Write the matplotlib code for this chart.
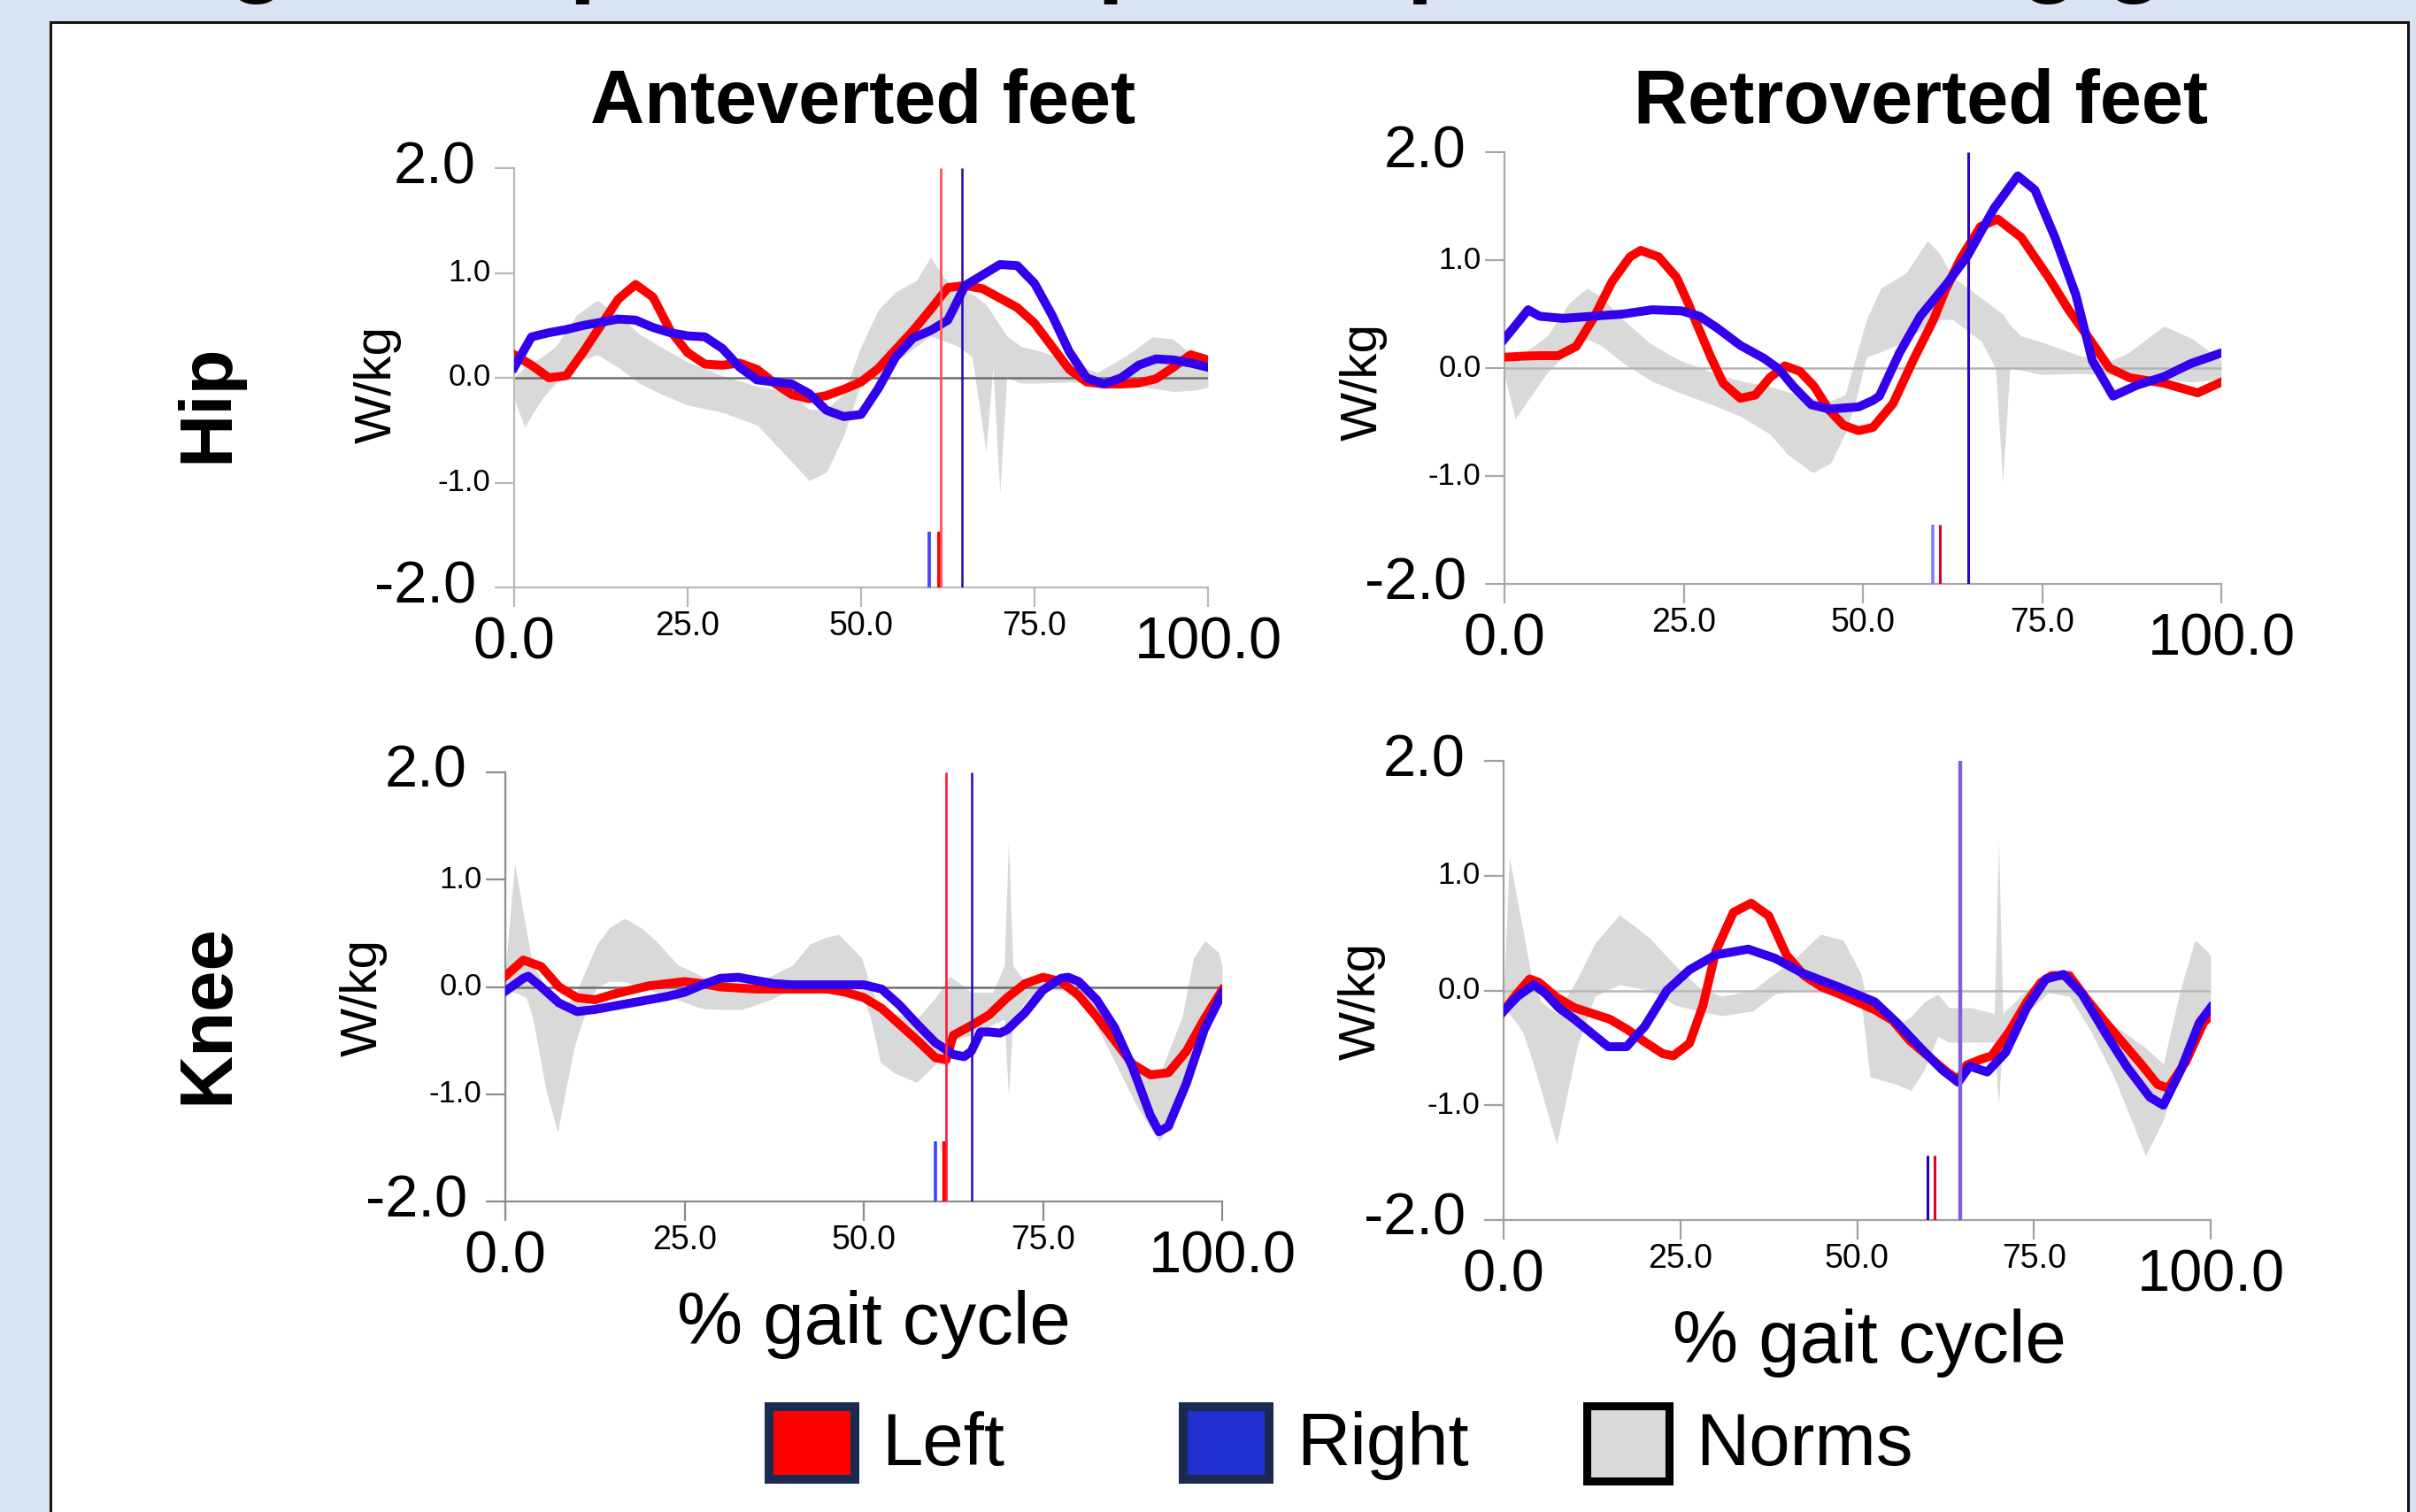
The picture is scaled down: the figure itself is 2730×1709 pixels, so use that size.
import numpy as np
import matplotlib.pyplot as plt
from matplotlib import font_manager
from matplotlib.patches import Rectangle

W, H = 2730, 1709

names = {f.name for f in font_manager.fontManager.ttflist}
narrow = 'Liberation Sans Narrow' if 'Liberation Sans Narrow' in names else 'Liberation Sans'
plt.rcParams['font.family'] = ['Liberation Sans', 'DejaVu Sans']

# ---- labels ----
title_text = "Sagittal hip and knee power profiles during gait"
col_titles = ["Anteverted feet", "Retroverted feet"]
row_titles = ["Hip", "Knee"]
y_unit = "W/kg"
x_title = "% gait cycle"
legend_labels = ["Left", "Right", "Norms"]
yticks = [-2.0, -1.0, 0.0, 1.0, 2.0]
xticks = [0.0, 25.0, 50.0, 75.0, 100.0]

# ---- hip, anteverted ----
hip_ant_x = [0, 2.5, 5, 7.5, 10, 12.5, 15, 17.5, 20, 22.5, 25, 27.5, 30, 32.5, 35, 37.5, 40,
             42.5, 45, 47.5, 50, 52.5, 55, 57.5, 60, 62.5, 65, 67.5, 70, 72.5, 75, 77.5, 80,
             82.5, 85, 87.5, 90, 92.5, 95, 97.5, 100]
hip_ant_left = [0.22, 0.12, 0.0, 0.02, 0.25, 0.5, 0.75, 0.89, 0.77, 0.45, 0.24, 0.13, 0.12,
                0.14, 0.08, -0.05, -0.16, -0.2, -0.17, -0.11, -0.04, 0.09, 0.27, 0.45, 0.65,
                0.86, 0.88, 0.85, 0.76, 0.67, 0.52, 0.3, 0.08, -0.04, -0.06, -0.06, -0.05,
                -0.01, 0.1, 0.22, 0.17]
hip_ant_right = [0.1, 0.39, 0.43, 0.46, 0.5, 0.53, 0.56, 0.55, 0.48, 0.43, 0.4, 0.39, 0.28,
                 0.1, -0.02, -0.04, -0.06, -0.15, -0.31, -0.37, -0.35, -0.1, 0.2, 0.38, 0.45,
                 0.55, 0.88, 0.98, 1.08, 1.07, 0.9, 0.6, 0.25, 0.0, -0.06, 0.0, 0.12, 0.18,
                 0.17, 0.14, 0.1]
hip_ant_norm_x = [0, 1.5, 4, 6, 9, 12, 15, 18, 21, 25, 30, 35, 40, 42.5, 45, 47.5, 50, 52.5,
                  55, 58, 60, 62, 64, 66, 68, 69, 70, 71, 73, 76, 80, 84, 88, 92, 95, 98, 100]
hip_ant_norm_hi = [0.0, 0.1, 0.2, 0.3, 0.6, 0.74, 0.6, 0.42, 0.3, 0.15, 0.02, -0.08, -0.15,
                   -0.3, -0.3, -0.15, 0.3, 0.65, 0.82, 0.93, 1.15, 0.95, 0.85, 0.8, 0.7, 0.6,
                   0.5, 0.4, 0.3, 0.25, 0.15, 0.05, 0.2, 0.39, 0.37, 0.2, 0.07]
hip_ant_norm_lo = [-0.2, -0.47, -0.2, -0.05, 0.15, 0.22, 0.1, -0.05, -0.15, -0.26, -0.33,
                   -0.45, -0.8, -0.98, -0.9, -0.55, -0.05, 0.0, 0.15, 0.3, 0.4, 0.35, 0.3, 0.2,
                   -0.7, 0.1, -1.1, 0.0, -0.05, -0.05, -0.04, -0.06, -0.05, -0.1, -0.13, -0.12,
                   -0.09]
hip_ant_events = [(59.8, -1.47, '#4a4af0', 2.8), (61.2, -1.47, '#ff0000', 2.8),
                  (61.5, 2.0, '#ff5060', 2.0), (64.5, 2.0, '#2a00c0', 1.8)]

# ---- hip, retroverted ----
hip_ret_left_x = [0, 2.5, 5, 7.5, 10, 12.5, 15, 17.5, 19, 21.5, 24, 25.5, 27.2, 28.8, 30.5,
                  32.9, 35, 37, 39.1, 41.2, 43.2, 45.3, 47.3, 49.4, 51.4, 54.2, 57, 59.8, 61.5,
                  63.6, 66.4, 68.8, 72.1, 75.9, 78.7, 81.6, 84.4, 87.2, 92, 96.7, 100]
hip_ret_left = [0.1, 0.11, 0.115, 0.115, 0.2, 0.47, 0.8, 1.03, 1.09, 1.03, 0.84, 0.62, 0.35,
                0.1, -0.14, -0.28, -0.25, -0.09, 0.02, -0.03, -0.17, -0.39, -0.53, -0.58,
                -0.55, -0.33, 0.07, 0.44, 0.72, 1.01, 1.31, 1.38, 1.21, 0.84, 0.54, 0.27, 0.0,
                -0.09, -0.14, -0.23, -0.13]
hip_ret_right_x = [0, 1.6, 3.3, 4.9, 8.2, 12.3, 16.5, 20.6, 24.7, 27.2, 29.6, 32.9, 36.2,
                   38.3, 40.3, 42.8, 45.3, 49.4, 51.4, 52.3, 55.1, 58, 61.7, 64.6, 68.3, 71.6,
                   74, 76.8, 79.7, 82, 84.9, 88.2, 92, 95.7, 100]
hip_ret_right = [0.27, 0.4, 0.54, 0.48, 0.46, 0.48, 0.5, 0.54, 0.53, 0.48, 0.375, 0.21, 0.09,
                 -0.01, -0.17, -0.34, -0.38, -0.36, -0.3, -0.26, 0.14, 0.48, 0.78, 1.04, 1.48,
                 1.78, 1.65, 1.21, 0.68, 0.07, -0.26, -0.16, -0.08, 0.04, 0.14]
hip_ret_norm_x = [0, 1.5, 4, 6, 9, 11.5, 13.5, 16.5, 20.5, 24.5, 29, 33, 37, 39.5, 43, 45.5,
                  47.5, 49, 50.5, 52.5, 56, 59, 60.5, 62.5, 64.5, 66.5, 68.5, 69.5, 70.5, 72,
                  75, 80, 84, 87, 92, 96, 100]
hip_ret_norm_hi = [0.05, 0.1, 0.2, 0.3, 0.6, 0.74, 0.66, 0.45, 0.22, 0.07, -0.04, -0.12,
                   -0.17, -0.22, -0.28, -0.3, -0.25, 0.1, 0.45, 0.74, 0.88, 1.18, 1.08, 0.85,
                   0.75, 0.65, 0.55, 0.5, 0.4, 0.3, 0.24, 0.12, 0.05, 0.14, 0.39, 0.27, 0.07]
hip_ret_norm_lo = [-0.06, -0.47, -0.23, -0.04, 0.16, 0.27, 0.21, 0.05, -0.12, -0.23, -0.34,
                   -0.45, -0.61, -0.8, -0.97, -0.88, -0.61, -0.3, 0.1, 0.15, 0.25, 0.4, 0.45,
                   0.45, 0.35, 0.25, 0.0, -1.05, 0.0, -0.02, -0.06, -0.05, -0.06, -0.08, -0.1,
                   -0.13, -0.1]
hip_ret_events = [(59.8, -1.45, '#8080ff', 2.6), (60.8, -1.45, '#e00020', 2.2),
                  (64.7, 2.0, '#3300cc', 2.2)]

# ---- knee, anteverted ----
knee_ant_left_x = [0, 2.5, 5, 7.5, 10, 12.5, 15, 17.5, 20, 22.5, 25, 27.5, 30, 32.5, 35, 37.5,
                   40, 42.5, 45, 47.5, 50, 52.5, 55, 57.5, 60, 61.5, 62.5, 65, 67.5, 70, 72.5,
                   75, 77.5, 80, 82.5, 85, 87.5, 90, 92.5, 95, 97.5, 100]
knee_ant_left = [0.1, 0.25, 0.19, 0.0, -0.1, -0.12, -0.07, -0.03, 0.01, 0.03, 0.05, 0.03, 0.0,
                 -0.01, -0.02, -0.02, -0.02, -0.02, -0.02, -0.05, -0.1, -0.2, -0.35, -0.5,
                 -0.66, -0.68, -0.45, -0.36, -0.26, -0.1, 0.03, 0.09, 0.05, -0.08, -0.28, -0.5,
                 -0.72, -0.82, -0.8, -0.6, -0.3, -0.03]
knee_ant_right_x = [0, 2.5, 3.2, 5, 7.5, 10, 12.5, 15, 17.5, 20, 22.5, 25, 27.5, 30, 32.5, 35,
                    37.5, 40, 45, 50, 52.5, 55, 57.5, 60, 62.5, 64, 65, 66.3, 67.5, 69, 70,
                    72.5, 75, 77.5, 78.5, 80, 82.5, 85, 87.5, 90, 91.2, 92.5, 95, 97.5, 100]
knee_ant_right = [-0.04, 0.08, 0.1, 0.0, -0.15, -0.23, -0.21, -0.18, -0.15, -0.12, -0.09,
                  -0.05, 0.02, 0.08, 0.09, 0.06, 0.03, 0.02, 0.02, 0.02, -0.02, -0.17, -0.35,
                  -0.52, -0.63, -0.65, -0.6, -0.42, -0.42, -0.43, -0.4, -0.24, -0.03, 0.08,
                  0.09, 0.05, -0.12, -0.38, -0.75, -1.2, -1.35, -1.3, -0.9, -0.4, -0.06]
knee_ant_norm_x = [0, 1.3, 2.9, 3.8, 5.7, 7.3, 9.6, 11.5, 12.8, 14.5, 16.6, 19, 21, 24, 27.4,
                   30, 33, 37, 40, 42.5, 44.6, 46.5, 49.7, 51, 52.3, 54.2, 57.4, 60, 62, 65,
                   68, 69.6, 70.2, 70.8, 73, 76, 80, 84, 88, 91.2, 94.4, 96, 97.6, 99.5, 100]
knee_ant_norm_hi = [0.16, 1.15, 0.54, 0.2, 0.0, -0.2, -0.1, 0.2, 0.4, 0.55, 0.64, 0.55, 0.43,
                    0.21, 0.1, 0.05, 0.05, 0.1, 0.2, 0.4, 0.46, 0.49, 0.27, 0.0, -0.2, -0.25,
                    -0.3, -0.1, 0.1, -0.05, -0.05, 0.2, 1.37, 0.2, 0.0, 0.1, 0.08, -0.3, -0.75,
                    -0.83, -0.28, 0.27, 0.43, 0.32, 0.2]
knee_ant_norm_lo = [-0.04, -0.05, -0.1, -0.28, -0.97, -1.35, -0.56, -0.17, 0.0, 0.05, 0.05,
                    0.0, -0.05, -0.12, -0.2, -0.21, -0.21, -0.12, -0.02, -0.03, -0.03, -0.04,
                    -0.06, -0.3, -0.7, -0.8, -0.89, -0.72, -0.5, -0.45, -0.35, -0.3, -1.02,
                    -0.3, -0.1, -0.02, -0.05, -0.56, -1.1, -1.44, -1.1, -0.5, -0.2, -0.06,
                    -0.04]
knee_ant_events = [(60.0, -1.44, '#4040ff', 2.6), (61.2, -1.44, '#ff0000', 3.2),
                   (61.5, 2.0, '#ff2040', 2.0), (65.0, 2.0, '#2a00c0', 1.8)]

# ---- knee, retroverted ----
knee_ret_left_x = [0, 2, 3.7, 5, 7.5, 10, 12.5, 15, 17.5, 20, 22.5, 24, 26.3, 28.2, 30, 32.5,
                   35, 37.5, 40, 42.5, 45, 47.5, 50, 52.5, 55, 57.5, 60, 62.5, 64.3, 65.5, 67.5,
                   69, 71.5, 74, 76, 77.5, 80, 82.5, 85, 87.5, 90, 92.5, 94, 96.5, 99, 100]
knee_ret_left = [-0.18, -0.02, 0.1, 0.07, -0.06, -0.15, -0.2, -0.25, -0.34, -0.45, -0.55,
                 -0.57, -0.46, -0.13, 0.34, 0.68, 0.76, 0.65, 0.31, 0.13, 0.03, -0.03, -0.1,
                 -0.17, -0.26, -0.44, -0.57, -0.7, -0.78, -0.65, -0.6, -0.57, -0.36, -0.1,
                 0.07, 0.13, 0.13, -0.08, -0.27, -0.45, -0.63, -0.82, -0.85, -0.62, -0.28,
                 -0.22]
knee_ret_right_x = [0, 2, 4.3, 6, 7.8, 10, 11.6, 14.8, 17.4, 20, 23.1, 26.3, 30, 34.6, 38.4,
                    42.3, 47.4, 52.5, 55.6, 58.8, 62, 64.3, 65.9, 68.4, 71, 74, 76.7, 79.2,
                    81.8, 85, 88.2, 91.4, 93.3, 95.8, 98.4, 100]
knee_ret_right = [-0.18, -0.05, 0.05, -0.03, -0.15, -0.25, -0.33, -0.49, -0.49, -0.31, 0.0,
                  0.18, 0.31, 0.36, 0.28, 0.15, 0.03, -0.1, -0.28, -0.49, -0.69, -0.8, -0.66,
                  -0.71, -0.54, -0.15, 0.1, 0.14, -0.03, -0.36, -0.67, -0.93, -1.0, -0.69,
                  -0.28, -0.15]
knee_ret_norm_x = [0, 0.8, 2.7, 4, 5.3, 7.5, 10.4, 12.9, 16.4, 20.6, 24.4, 27.6, 30.8, 35.2,
                   38.4, 41.6, 44.8, 48, 50.5, 51.8, 55.6, 57.6, 59.5, 61.4, 63, 66, 69.4, 70,
                   70.6, 74, 77, 80, 83, 86.3, 90.8, 93.3, 95.8, 97.8, 99.7, 100]
knee_ret_norm_hi = [-0.05, 1.16, 0.54, 0.1, -0.1, -0.2, 0.1, 0.41, 0.66, 0.46, 0.21, 0.03,
                    -0.05, 0.0, 0.15, 0.3, 0.49, 0.44, 0.15, -0.2, -0.3, -0.23, -0.1, -0.03,
                    -0.15, -0.15, -0.2, 1.31, -0.2, 0.0, 0.15, 0.12, -0.05, -0.3, -0.5, -0.64,
                    0.03, 0.44, 0.33, 0.3]
knee_ret_norm_lo = [-0.15, -0.2, -0.36, -0.6, -0.87, -1.34, -0.49, -0.05, 0.05, 0.0, -0.13,
                    -0.18, -0.22, -0.18, -0.03, 0.0, -0.02, -0.03, -0.05, -0.75, -0.82, -0.87,
                    -0.69, -0.4, -0.45, -0.45, -0.45, -1.0, -0.4, -0.2, -0.02, -0.05, -0.35,
                    -0.75, -1.44, -1.13, -0.6, -0.3, -0.15, -0.15]
knee_ret_events = [(60.0, -1.44, '#2000b0', 2.2), (61.0, -1.44, '#e00020', 2.2),
                   (64.6, 2.0, '#8060d8', 3.2)]

RED = '#ff0000'
BLUE = '#3300ee'
NORM = '#d9d9d9'

fig = plt.figure(figsize=(W / 100, H / 100), dpi=100)
fig.patch.set_facecolor('#dae3f3')
fig.add_artist(Rectangle((57 / W, -0.02), (2721 - 57) / W, 1 - 25 / H + 0.02,
                         transform=fig.transFigure, facecolor='white',
                         edgecolor='#151515', lw=2.2, zorder=0))


def ftext(x, y, s, **kw):
    fig.text(x / W, 1 - y / H, s, **kw)


# poster title, cut off by the top edge as in the source image
ftext(125, -17, title_text, fontsize=78, fontweight='bold', va='baseline', ha='left')


def panel(box, lx, ly, rx, ry, nx, nlo, nhi, events, spine_col, zero_col):
    x0, x1, yt, yb = box
    ax = fig.add_axes([x0 / W, 1 - yb / H, (x1 - x0) / W, (yb - yt) / H])
    ax.set_facecolor('none')
    ax.fill_between(nx, nlo, nhi, color=NORM, lw=0, zorder=1)
    ax.axhline(0, color=zero_col, lw=1.8, zorder=2)
    ax.plot(lx, ly, color=RED, lw=7.2, zorder=4, solid_joinstyle='round')
    ax.plot(rx, ry, color=BLUE, lw=7.2, zorder=5, solid_joinstyle='round')
    for ex, etop, ec, ew in events:
        ax.vlines(ex, -2, etop, colors=ec, lw=ew, zorder=6)
    ax.set_xlim(0, 100)
    ax.set_ylim(-2, 2)
    for s in ['top', 'right']:
        ax.spines[s].set_visible(False)
    for s in ['left', 'bottom']:
        ax.spines[s].set_color(spine_col)
        ax.spines[s].set_linewidth(1.6)
    ax.set_xticks(xticks)
    ax.set_yticks(yticks)
    ax.set_xticklabels([])
    ax.set_yticklabels([])
    ax.tick_params(length=16, width=1.6, color=spine_col, direction='out')
    for v in yticks:
        big = abs(v) == 2
        ax.annotate('%.1f' % v, xy=(0, v), xycoords=('axes fraction', 'data'),
                    xytext=(-31 if big else -19, 0), textcoords='offset points',
                    ha='right', va='center', fontsize=48 if big else 25,
                    annotation_clip=False)
    for v in xticks:
        big = v in (0, 100)
        ax.annotate('%.1f' % v, xy=(v, 0), xycoords=('data', 'axes fraction'),
                    xytext=(0, -46 if big else -32), textcoords='offset points',
                    ha='center', va='center', fontsize=48 if big else 27,
                    annotation_clip=False)
    return ax


panel((581, 1365, 190, 664), hip_ant_x, hip_ant_left, hip_ant_x, hip_ant_right,
      hip_ant_norm_x, hip_ant_norm_lo, hip_ant_norm_hi, hip_ant_events, '#b8b8b8', '#6e6e6e')
panel((1700, 2510, 172, 660), hip_ret_left_x, hip_ret_left, hip_ret_right_x, hip_ret_right,
      hip_ret_norm_x, hip_ret_norm_lo, hip_ret_norm_hi, hip_ret_events, '#a8a8a8', '#b4b4b4')
panel((571, 1381, 873, 1358), knee_ant_left_x, knee_ant_left, knee_ant_right_x, knee_ant_right,
      knee_ant_norm_x, knee_ant_norm_lo, knee_ant_norm_hi, knee_ant_events, '#8c8c8c', '#6e6e6e')
panel((1699, 2498, 860, 1379), knee_ret_left_x, knee_ret_left, knee_ret_right_x, knee_ret_right,
      knee_ret_norm_x, knee_ret_norm_lo, knee_ret_norm_hi, knee_ret_events, '#a0a0a0', '#b8b8b8')

# column and row headings
ftext(975, 117, col_titles[0], fontsize=61, fontweight='bold', ha='center', va='center')
ftext(2171, 117, col_titles[1], fontsize=61, fontweight='bold', ha='center', va='center')
ftext(235, 456, row_titles[0], fontsize=60, fontweight='bold', ha='center', va='center', rotation=90)
ftext(235, 1146, row_titles[1], fontsize=60, fontweight='bold', ha='center', va='center', rotation=90)

wk = 50 if narrow != 'Liberation Sans' else 42
for (x, y) in [(427, 435), (1541, 432), (411, 1128), (1539, 1132)]:
    ftext(x, y, y_unit, fontsize=wk, family=narrow, ha='center', va='center', rotation=90)

ftext(987, 1497, x_title, fontsize=60, ha='center', va='center')
ftext(2112, 1518, x_title, fontsize=60, ha='center', va='center')

# legend
legend_boxes = [((869, 1590, 97, 82), RED, '#1a2a50', 7.2, 996),
                ((1337, 1590, 97, 82), '#2131d1', '#1a2a50', 7.2, 1465),
                ((1793, 1589, 93, 85), NORM, '#000000', 6.5, 1916)]
for (bx, by, bw, bh), fc, ec, elw, tx in legend_boxes:
    fig.add_artist(Rectangle((bx / W, 1 - (by + bh) / H), bw / W, bh / H,
                             transform=fig.transFigure, facecolor=fc, edgecolor=ec, lw=elw))
for (b, fc, ec, elw, tx), lab in zip(legend_boxes, legend_labels):
    ftext(tx, 1634, lab, fontsize=60, ha='left', va='center')

fig.savefig('out.png', dpi=100, facecolor=fig.get_facecolor())
